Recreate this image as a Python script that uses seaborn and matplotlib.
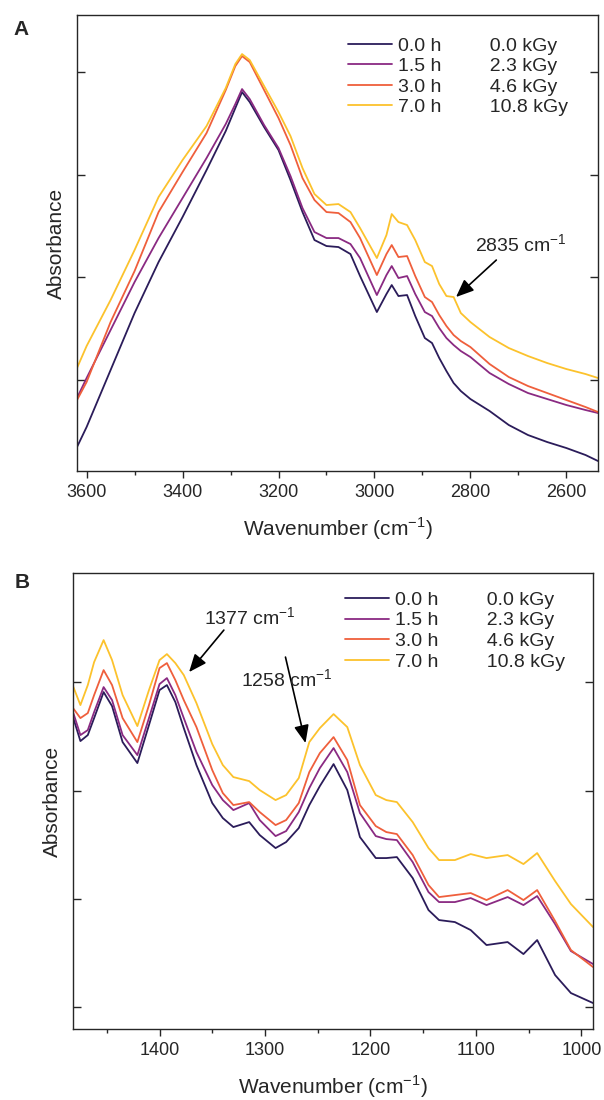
import numpy as np
import pandas as pd
import matplotlib
matplotlib.use("Agg")
import matplotlib.pyplot as plt
import seaborn as sns
from matplotlib.ticker import MultipleLocator

# ------------------------------
# data (absorbance, arbitrary units)
# ------------------------------
hours = ["0.0 h", "1.5 h", "3.0 h", "7.0 h"]
doses = ["0.0 kGy", "2.3 kGy", "4.6 kGy", "10.8 kGy"]
colors = ["#2b1c5a", "#8a2a82", "#ef5f3c", "#fcc22c"]

# panel A : 3620 - 2534 cm-1
wn_a = [3620, 3600, 3550, 3500, 3450, 3400, 3350, 3310, 3290, 3276,
        3260, 3230, 3200, 3175, 3150, 3125, 3100, 3075, 3050, 3030,
        2995, 2975, 2964, 2950, 2932, 2915, 2895, 2880, 2865, 2850,
        2835, 2820, 2800, 2760, 2720, 2680, 2640, 2600, 2560, 2534]
a_00 = [0.53, 0.73, 1.30, 1.87, 2.38, 2.83, 3.30, 3.69, 3.92, 4.08,
        3.98, 3.73, 3.50, 3.20, 2.88, 2.60, 2.54, 2.53, 2.46, 2.24,
        1.88, 2.06, 2.15, 2.04, 2.05, 1.84, 1.62, 1.57, 1.42, 1.29,
        1.17, 1.09, 1.01, 0.89, 0.75, 0.65, 0.58, 0.52, 0.45, 0.39]
a_15 = [1.02, 1.22, 1.70, 2.18, 2.62, 3.02, 3.42, 3.76, 3.96, 4.11,
        4.01, 3.75, 3.52, 3.24, 2.92, 2.68, 2.62, 2.62, 2.56, 2.42,
        2.05, 2.25, 2.34, 2.22, 2.24, 2.06, 1.88, 1.84, 1.72, 1.62,
        1.55, 1.49, 1.43, 1.27, 1.16, 1.07, 1.01, 0.95, 0.90, 0.87]
a_30 = [1.00, 1.18, 1.78, 2.29, 2.88, 3.28, 3.67, 4.10, 4.34, 4.44,
        4.38, 4.10, 3.82, 3.55, 3.22, 3.00, 2.88, 2.87, 2.78, 2.62,
        2.25, 2.46, 2.55, 2.43, 2.44, 2.24, 2.03, 1.98, 1.85, 1.74,
        1.65, 1.59, 1.53, 1.36, 1.23, 1.14, 1.07, 1.00, 0.93, 0.88]
a_70 = [1.32, 1.54, 2.00, 2.50, 3.03, 3.40, 3.74, 4.12, 4.36, 4.46,
        4.40, 4.14, 3.88, 3.64, 3.32, 3.06, 2.95, 2.96, 2.88, 2.72,
        2.42, 2.65, 2.86, 2.78, 2.75, 2.60, 2.38, 2.34, 2.16, 2.04,
        2.03, 1.87, 1.78, 1.63, 1.52, 1.44, 1.37, 1.31, 1.26, 1.22]

# panel B : 1482 - 989 cm-1
wn_b = [1482, 1475, 1468, 1462, 1453, 1445, 1435, 1421, 1410, 1400,
        1393, 1385, 1377, 1365, 1350, 1340, 1330, 1315, 1305, 1290,
        1280, 1268, 1258, 1248, 1235, 1222, 1210, 1195, 1185, 1175,
        1160, 1145, 1135, 1120, 1105, 1090, 1070, 1055, 1042, 1025,
        1010, 989]
b_00 = [3.83, 3.59, 3.65, 3.82, 4.08, 3.94, 3.58, 3.37, 3.75, 4.10,
        4.15, 3.98, 3.72, 3.35, 2.97, 2.82, 2.73, 2.78, 2.65, 2.52,
        2.58, 2.72, 2.95, 3.14, 3.36, 3.10, 2.63, 2.42, 2.42, 2.43,
        2.22, 1.90, 1.80, 1.78, 1.70, 1.55, 1.58, 1.46, 1.60, 1.25,
        1.07, 0.97]
b_15 = [3.88, 3.65, 3.70, 3.88, 4.13, 4.00, 3.65, 3.45, 3.82, 4.16,
        4.22, 4.05, 3.82, 3.48, 3.15, 3.00, 2.90, 2.97, 2.80, 2.64,
        2.69, 2.88, 3.12, 3.32, 3.52, 3.28, 2.87, 2.64, 2.61, 2.60,
        2.38, 2.08, 1.98, 1.98, 2.02, 1.95, 2.03, 1.95, 2.04, 1.76,
        1.49, 1.36]
b_30 = [3.92, 3.82, 3.87, 4.05, 4.30, 4.15, 3.82, 3.58, 3.95, 4.32,
        4.37, 4.20, 4.00, 3.73, 3.30, 3.07, 2.95, 2.98, 2.88, 2.75,
        2.80, 2.97, 3.28, 3.47, 3.63, 3.40, 2.95, 2.74, 2.68, 2.66,
        2.45, 2.15, 2.03, 2.05, 2.07, 2.00, 2.10, 2.00, 2.10, 1.79,
        1.50, 1.33]
b_70 = [4.14, 3.95, 4.15, 4.38, 4.60, 4.40, 4.05, 3.74, 4.10, 4.40,
        4.46, 4.37, 4.25, 3.97, 3.56, 3.35, 3.23, 3.19, 3.10, 3.00,
        3.05, 3.22, 3.58, 3.72, 3.86, 3.73, 3.35, 3.05, 3.00, 2.98,
        2.78, 2.52, 2.40, 2.40, 2.46, 2.42, 2.45, 2.36, 2.47, 2.19,
        1.96, 1.73]

# ------------------------------
# style
# ------------------------------
sns.set_style("ticks")
plt.rcParams["font.family"] = ["Liberation Sans", "DejaVu Sans"]
plt.rcParams["mathtext.fontset"] = "custom"
plt.rcParams["mathtext.rm"] = "Liberation Sans"
plt.rcParams["axes.linewidth"] = 1.0

labels = [f"{h}         {d}" for h, d in zip(hours, doses)]
palette = dict(zip(labels, colors))


def long_df(wn, series):
    frames = []
    for lab, ys in zip(labels, series):
        frames.append(pd.DataFrame({"wn": wn, "absorb": ys, "sample": lab}))
    return pd.concat(frames, ignore_index=True)


df_a = long_df(wn_a, [a_00, a_15, a_30, a_70])
df_b = long_df(wn_b, [b_00, b_15, b_30, b_70])

fig = plt.figure(figsize=(6.04, 11), dpi=100)
ax_a = fig.add_axes([0.1275, 0.5718, 0.8626, 0.4145])
ax_b = fig.add_axes([0.1209, 0.0645, 0.8610, 0.4145])

xlab = r"Wavenumber (cm$^{\mathregular{-1}}$)"


def style_axis(ax, xlim, ylim, yticks, major, minor, leg_x, leg_y):
    ax.set_xlim(*xlim)
    ax.set_ylim(*ylim)
    ax.set_yticks(yticks)
    ax.xaxis.set_major_locator(MultipleLocator(major))
    ax.xaxis.set_minor_locator(MultipleLocator(minor))
    ax.tick_params(axis="y", which="both", direction="in", left=True,
                   right=True, labelleft=False, length=6, width=1.0)
    ax.tick_params(axis="x", which="major", direction="out", length=5,
                   width=1.0, labelsize=13, pad=4, top=False)
    ax.tick_params(axis="x", which="minor", direction="out", length=3,
                   width=1.0, top=False)
    for s in ax.spines.values():
        s.set_visible(True)
        s.set_linewidth(1.0)
    ax.set_xlabel(xlab, fontsize=15)
    ax.set_ylabel("Absorbance", fontsize=15)
    ax.xaxis.set_label_coords(0.5, -0.097)
    ax.yaxis.set_label_coords(-0.021, 0.5)
    handles, labs = ax.get_legend_handles_labels()
    ax.legend(handles, labs, loc="upper left", bbox_to_anchor=(leg_x, leg_y),
              frameon=False, fontsize=14, handlelength=2.25,
              handletextpad=0.3, labelspacing=0.15, borderpad=0,
              borderaxespad=0)


arrow = dict(arrowstyle="-|>,head_length=0.6,head_width=0.25",
             color="black", lw=1.2, mutation_scale=18,
             shrinkA=0, shrinkB=0)

# ------------------------------
# panel A
# ------------------------------
sns.lineplot(data=df_a, x="wn", y="absorb", hue="sample", palette=palette,
             linewidth=1.3, ax=ax_a, sort=False)
style_axis(ax_a, (3620, 2534), (0.29, 4.85), [1.20, 2.23, 3.25, 4.28],
           200, 100, 0.520, 0.952)
ax_a.annotate("", xy=(2830, 2.03), xytext=(2746, 2.40), arrowprops=arrow)
ax_a.text(2790, 2.48, r"2835 cm$^{\mathregular{-1}}$", fontsize=14,
          ha="left", va="baseline")

# ------------------------------
# panel B
# ------------------------------
sns.lineplot(data=df_b, x="wn", y="absorb", hue="sample", palette=palette,
             linewidth=1.3, ax=ax_b, sort=False)
style_axis(ax_b, (1482, 989), (0.71, 5.27), [0.93, 2.01, 3.095, 4.18],
           100, 50, 0.523, 0.960)
ax_b.annotate("", xy=(1372, 4.28), xytext=(1339, 4.70), arrowprops=arrow)
ax_b.text(1358, 4.75, r"1377 cm$^{\mathregular{-1}}$", fontsize=14,
          ha="left", va="baseline")
ax_b.annotate("", xy=(1261.6, 3.57), xytext=(1280.6, 4.43), arrowprops=arrow)
ax_b.text(1323, 4.13, r"1258 cm$^{\mathregular{-1}}$", fontsize=14,
          ha="left", va="baseline")

fig.text(13 / 604, 1 - 35 / 1100, "A", fontsize=15, fontweight="bold",
         ha="left", va="baseline")
fig.text(15 / 604, 1 - 588 / 1100, "B", fontsize=15, fontweight="bold",
         ha="left", va="baseline")

fig.savefig("out.png", dpi=100)
print("saved out.png")
